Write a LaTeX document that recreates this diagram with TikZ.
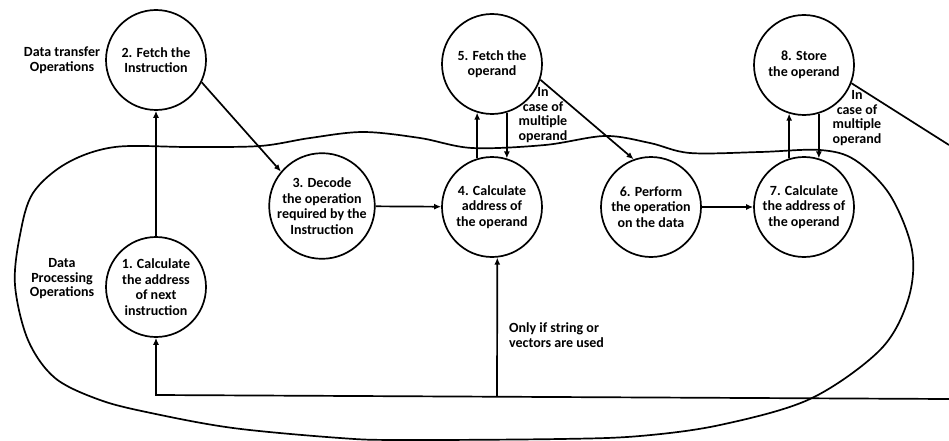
\documentclass[tikz,border=0pt]{standalone}
\usepackage{fontspec}
\setmainfont{Carlito}
\usetikzlibrary{arrows.meta}

\tikzset{
  stage/.style={circle, draw, line width=1.7pt, minimum size=100pt, inner sep=0pt,
    align=center, font=\bfseries\fontsize{14}{15.5}\selectfont},
  lbl/.style={align=center, inner sep=0pt, font=\bfseries\fontsize{14}{14.5}\selectfont},
  wire/.style={line width=1.7pt},
  flow/.style={wire, -{Latex[length=7pt,width=6pt]}},
}

\begin{document}
\begin{tikzpicture}[x=1pt, y=-1pt]
\useasboundingbox (0,0) rectangle (949,441);

% boundary separating data transfer from data processing operations
\draw[wire] plot[smooth cycle, tension=0.55] coordinates {
  (115,147) (190,147) (260,146) (310,138) (363,132) (420,138) (472,148)
  (545,145) (605,136) (650,143) (690,153) (760,152) (820,150) (855,160)
  (890,195) (912,250) (908,300) (880,350) (810,399) (720,425) (640,436)
  (560,439) (400,440) (340,438) (233,428) (151,413) (100,400) (55,378)
  (28,340) (15,285) (20,235) (33,193) (67,163)};

% instruction cycle states
\node[stage] (s1) at (156,287) {1. Calculate\\the address\\of next\\instruction};
\node[stage] (s2) at (156,60)  {2. Fetch the\\Instruction};
\node[stage] (s3) at (322,206) {3. Decode\\the operation\\required by the\\Instruction};
\node[stage] (s4) at (492,207) {4. Calculate\\address of\\the operand};
\node[stage] (s5) at (492,64)  {5. Fetch the\\operand};
\node[stage] (s6) at (651,207) {6. Perform\\the operation\\on the data};
\node[stage] (s7) at (804,207) {7. Calculate\\the address of\\the operand};
\node[stage] (s8) at (804,65)  {8. Store\\the operand};

% region and edge labels
\node[lbl] (tr) at (62,60)  {Data transfer\\Operations};
\node[lbl] (pr) at (62,279) {Data\\Processing\\Operations};
\node[lbl] (m1) at (543,115) {In\\case of\\multiple\\operand};
\node[lbl] (m2) at (857,118) {In\\case of\\multiple\\operand};
\node[lbl, align=left, anchor=west] (sv) at (509,335) {Only if string or\\vectors are used};

% free ends and corners of the return paths
\coordinate (back) at (949,399);
\coordinate (corner) at (156,395);
\coordinate (tap) at (497,396);
\coordinate (out8) at (949,145);

% transitions
\draw[flow] (s1) -- (s2);
\draw[flow] (s2.334) -- (s3.140);
\draw[flow] (s3) -- (s4);
\draw[flow] (s4.107) -- (s5.253);
\draw[flow] (s5.287) -- (s4.73);
\draw[flow] (s5.342) -- (s6.110);
\draw[flow] (s6) -- (s7);
\draw[flow] (s7.107) -- (s8.253);
\draw[flow] (s8.287) -- (s7.73);
\draw[wire] (s8.339) -- (out8);
\draw[flow] (back) -- (corner) -- (s1);
\draw[flow] (tap) -- (s4.276);
\end{tikzpicture}
\end{document}
